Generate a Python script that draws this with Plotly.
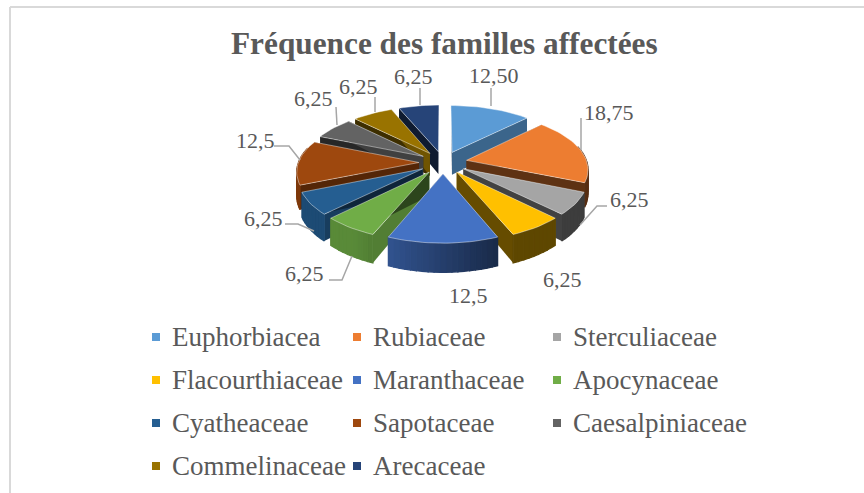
import math
import plotly.graph_objects as go

# ---------- data ----------
families = ["Euphorbiacea", "Rubiaceae", "Sterculiaceae", "Flacourthiaceae", "Maranthaceae",
            "Apocynaceae", "Cyatheaceae", "Sapotaceae", "Caesalpiniaceae", "Commelinaceae", "Arecaceae"]
values = [12.5, 18.75, 6.25, 6.25, 12.5, 6.25, 6.25, 12.5, 6.25, 6.25, 6.25]
value_labels = ["12,50", "18,75", "6,25", "6,25", "12,5", "6,25", "6,25", "12,5", "6,25", "6,25", "6,25"]
colors = ["#5B9BD5", "#ED7D31", "#A5A5A5", "#FFC000", "#4472C4", "#70AD47",
          "#255E91", "#9E480E", "#636363", "#997300", "#264478"]
title = "Fréquence des familles affectées"

# ---------- layout constants (pixel space of the 864x493 canvas) ----------
W, H = 864, 493
CX, CY = 443, 162.5
RX, RY = 120.5, 56
PERSP = 0.139
EXPLODE = 0.2
DEPTH = 23
label_xy = [(494, 75), (609, 112), (629, 199), (562, 279), (468, 295), (304, 273),
            (263, 218), (255, 140), (313, 98), (358, 86), (413, 76)]
leaders = [[(491, 88), (491, 106)], [(581, 118), (581, 150)], [(607, 206), (597, 206), (580, 225)],
           [], [], [(329, 280), (342, 280), (352, 256)], [(285, 224), (298, 224), (314, 231)],
           [(274, 146), (289, 146), (300, 160)], [(336, 107), (337, 125)], [(375, 97), (375, 112)],
           [(420, 88), (420, 105)]]
legend_cols = [156, 357, 557]
legend_rows = [337, 380, 423, 466]
LEGEND_GAP = 14
LABEL_COLOR = "#595959"
FONT = "Liberation Serif"


def project(u, v, drop=0.0):
    p = 1 / (1 + PERSP * v)
    return CX + RX * u * p, CY - RY * v * p + drop * DEPTH * p ** 1.3


def shade(hex_color, f):
    r, g, b = (int(hex_color[i:i + 2], 16) for i in (1, 3, 5))
    return f"rgb({int(r * f)},{int(g * f)},{int(b * f)})"


def polygon(fig, pts, fill, name=None, line="rgba(255,255,255,0)", lw=0):
    xs = [q[0] for q in pts] + [pts[0][0]]
    ys = [q[1] for q in pts] + [pts[0][1]]
    fig.add_trace(go.Scatter(x=xs, y=ys, mode="lines", fill="toself", fillcolor=fill,
                             line=dict(color=line, width=lw), name=name or "",
                             hoverinfo="name" if name else "skip", showlegend=False))


fig = go.Figure()

# ---------- wedges, back to front ----------
total = sum(values)
wedges = []
start = 0.0
for name, val, col in zip(families, values, colors):
    end = start + val / total * 2 * math.pi
    wedges.append((name, col, start, end))
    start = end
wedges.sort(key=lambda w: -math.cos((w[2] + w[3]) / 2))

for name, col, a0, a1 in wedges:
    mid = (a0 + a1) / 2
    ou, ov = EXPLODE * math.sin(mid), EXPLODE * math.cos(mid)
    n = max(8, int((a1 - a0) / 0.04))
    angs = [a0 + (a1 - a0) * i / n for i in range(n + 1)]
    rim = [(ou + math.sin(t), ov + math.cos(t)) for t in angs]
    # radial faces
    for edge, normal in ((a0, a0 - math.pi / 2), (a1, a1 + math.pi / 2)):
        e = (ou + math.sin(edge), ov + math.cos(edge))
        f = 0.4 + 0.36 * max(0.0, math.sin(normal))
        polygon(fig, [project(ou, ov), project(*e), project(*e, 1), project(ou, ov, 1)], shade(col, f))
    # outer wall, split into strips so it can carry a left-to-right gradient
    for i in range(n):
        t = (angs[i] + angs[i + 1]) / 2
        if math.cos(t) > 0.25:
            continue
        f = min(0.8, max(0.37, 0.55 - 0.47 * math.sin(t)))
        fc = shade(col, f)
        polygon(fig, [project(*rim[i]), project(*rim[i + 1]), project(*rim[i + 1], 1), project(*rim[i], 1)],
                fc, line=fc, lw=1.2)
    # top
    polygon(fig, [project(ou, ov)] + [project(*q) for q in rim], col, name=name,
            line="rgba(255,255,255,0.55)", lw=0.8)

# ---------- leaders and value labels ----------
for seg in leaders:
    if seg:
        fig.add_trace(go.Scatter(x=[q[0] for q in seg], y=[q[1] for q in seg], mode="lines",
                                 line=dict(color="#A6A6A6", width=1.5), hoverinfo="skip", showlegend=False))
annotations = []
for txt, (x, y) in zip(value_labels, label_xy):
    annotations.append(dict(x=x, y=y, text=txt, showarrow=False, xanchor="center", yanchor="middle",
                            font=dict(family=FONT, size=22, color=LABEL_COLOR)))

# ---------- legend ----------
for i, (name, col) in enumerate(zip(families, colors)):
    lx, ly = legend_cols[i % 3], legend_rows[i // 3]
    fig.add_trace(go.Scatter(x=[lx], y=[ly], mode="markers", name=name,
                             marker=dict(symbol="square", size=8, color=col), showlegend=False))
    annotations.append(dict(x=lx + LEGEND_GAP, y=ly, text=name, showarrow=False, xanchor="left", yanchor="middle",
                            font=dict(family=FONT, size=27, color=LABEL_COLOR)))

annotations.append(dict(x=444, y=43, text=f"<b>{title}</b>", showarrow=False, xanchor="center", yanchor="middle",
                        font=dict(family=FONT, size=31.3, color=LABEL_COLOR)))

# ---------- frame ----------
shapes = [dict(type="line", x0=10, x1=10, y0=7, y1=H, line=dict(color="#D9D9D9", width=2)),
          dict(type="line", x0=10, x1=W, y0=7, y1=7, line=dict(color="#D9D9D9", width=2))]

fig.update_layout(
    width=W, height=H, margin=dict(l=0, r=0, t=0, b=0), paper_bgcolor="white", plot_bgcolor="white",
    xaxis=dict(range=[0, W], visible=False, fixedrange=True),
    yaxis=dict(range=[H, 0], visible=False, fixedrange=True),
    annotations=annotations, shapes=shapes, showlegend=False,
)
fig.write_html("out.html", config=dict(displayModeBar=False),
               post_script="document.body.style.margin='0';document.documentElement.style.overflow='hidden';")
